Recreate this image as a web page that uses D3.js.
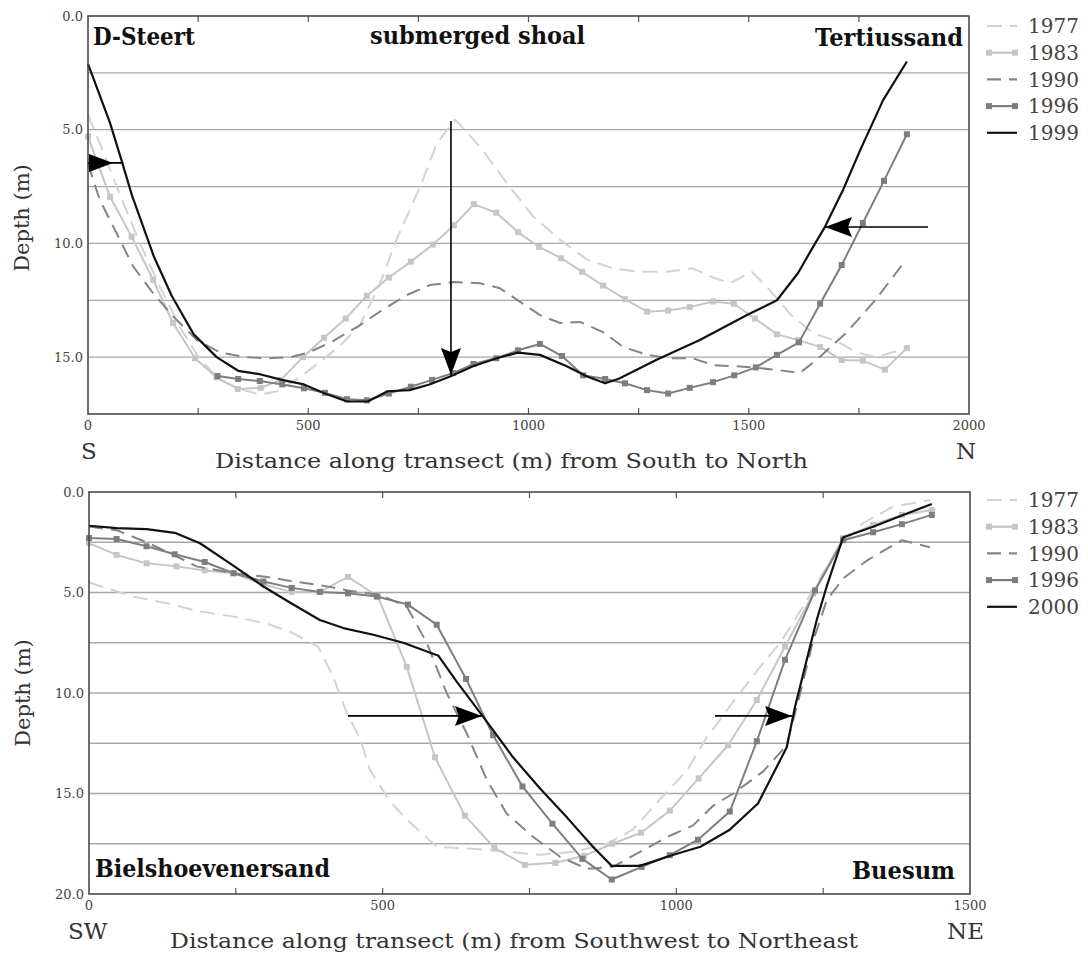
<!DOCTYPE html>
<html>
<head>
<meta charset="utf-8">
<script src="https://cdn.jsdelivr.net/npm/d3@7"></script>
<style>
  body { margin: 0; background: #fff; }
  text { font-family: "DejaVu Serif", serif; }
</style>
</head>
<body>
<script>
// ---- data: top transect (South -> North), [distance m, depth m]
const top1977 = [[0,4.35],[27,5.6],[65,7.5],[118,10.0],[163,11.9],[209,13.7],[254,15.1],[300,16.0],[345,16.4],[390,16.65],[430,16.5],[480,15.9],[527,15.2],[572,14.5],[617,13.6],[660,11.9],[700,9.85],[754,7.5],[792,5.6],[833,4.55],[890,5.75],[951,7.35],[1010,8.8],[1072,9.85],[1132,10.7],[1192,11.1],[1253,11.25],[1314,11.25],[1373,11.1],[1419,11.5],[1457,11.75],[1507,11.25],[1541,11.9],[1594,13.1],[1646,13.95],[1700,14.3],[1746,14.8],[1790,15.0],[1859,14.6]];
const top1983 = [[0,5.3],[50,7.95],[99,9.7],[148,11.6],[193,13.5],[243,15.05],[292,15.9],[340,16.4],[392,16.35],[438,16.0],[488,15.0],[536,14.15],[585,13.3],[633,12.3],[683,11.5],[733,10.8],[783,10.05],[831,9.2],[876,8.27],[927,8.65],[976,9.5],[1024,10.15],[1074,10.65],[1122,11.25],[1169,11.85],[1219,12.45],[1269,13.0],[1317,12.95],[1366,12.8],[1419,12.55],[1466,12.65],[1514,13.3],[1564,14.0],[1612,14.25],[1662,14.55],[1711,15.13],[1759,15.15],[1809,15.55],[1859,14.6]];
const top1990 = [[0,6.5],[27,8.1],[65,9.55],[102,11.0],[148,12.2],[193,13.2],[247,14.25],[300,14.8],[360,15.0],[406,15.05],[460,15.0],[500,14.8],[556,14.3],[617,13.6],[670,12.9],[724,12.27],[776,11.83],[829,11.7],[890,11.75],[935,11.97],[981,12.57],[1026,13.15],[1072,13.5],[1117,13.45],[1169,13.9],[1215,14.55],[1269,14.9],[1321,15.05],[1373,15.05],[1419,15.35],[1496,15.43],[1560,15.55],[1616,15.7],[1655,15.1],[1723,13.9],[1787,12.5],[1848,10.95]];
const top1996 = [[294,15.83],[341,15.96],[390,16.05],[441,16.2],[490,16.37],[538,16.57],[588,16.85],[633,16.9],[683,16.6],[733,16.3],[781,16.0],[829,15.7],[875,15.3],[927,15.05],[976,14.7],[1026,14.42],[1076,14.95],[1124,15.8],[1174,15.96],[1219,16.15],[1269,16.45],[1317,16.6],[1366,16.35],[1419,16.1],[1467,15.8],[1516,15.45],[1564,14.9],[1614,14.35],[1662,12.65],[1711,10.95],[1759,9.1],[1807,7.25],[1859,5.2]];
const top1999 = [[0,2.1],[50,4.7],[77,6.4],[100,7.9],[150,10.6],[190,12.3],[240,14.0],[292,15.0],[341,15.6],[390,15.75],[440,16.0],[490,16.2],[538,16.6],[588,16.95],[635,16.95],[680,16.5],[730,16.45],[775,16.2],[822,15.85],[874,15.4],[928,15.05],[976,14.8],[1026,14.9],[1087,15.4],[1133,15.85],[1174,16.15],[1205,15.95],[1292,15.1],[1389,14.25],[1496,13.15],[1564,12.5],[1612,11.3],[1646,10.15],[1673,9.27],[1714,7.65],[1753,5.9],[1805,3.7],[1859,2.0]];

// ---- data: bottom transect (Southwest -> Northeast)
const bot1977 = [[0,4.5],[75,5.2],[132,5.53],[189,5.95],[246,6.2],[303,6.55],[342,6.95],[390,7.7],[416,9.2],[439,11.0],[462,12.3],[478,13.8],[510,15.3],[541,16.3],[592,17.65],[654,17.75],[711,17.9],[768,18.05],[825,17.9],[882,17.5],[926,16.8],[972,15.3],[1018,13.85],[1052,12.2],[1103,10.2],[1148,8.5],[1177,7.5],[1222,5.4],[1273,2.9],[1318,1.55],[1369,0.73],[1432,0.4]];
const bot1983 = [[0,2.54],[47,3.13],[98,3.55],[149,3.7],[197,3.9],[246,4.04],[297,4.6],[345,4.97],[393,4.97],[441,4.22],[492,5.2],[541,8.7],[589,13.2],[640,16.1],[690,17.7],[742,18.55],[794,18.45],[843,18.1],[891,17.5],[940,16.95],[989,15.85],[1038,14.25],[1088,12.6],[1137,10.35],[1185,7.7],[1233,5.05],[1284,2.3],[1335,1.63],[1384,1.14],[1435,0.9]];
const bot1990 = [[0,1.72],[47,1.9],[98,2.5],[149,3.2],[183,3.7],[246,4.04],[297,4.2],[348,4.45],[393,4.63],[441,4.9],[495,5.12],[541,5.7],[575,7.5],[609,10.0],[643,12.0],[677,14.3],[711,16.0],[756,17.15],[802,18.15],[848,18.75],[892,18.65],[938,17.9],[989,17.1],[1028,16.6],[1063,15.6],[1097,15.0],[1148,13.9],[1188,12.6],[1211,10.0],[1233,7.4],[1256,5.4],[1284,4.3],[1325,3.4],[1384,2.4],[1432,2.75]];
const bot1996 = [[0,2.29],[47,2.34],[98,2.7],[146,3.1],[197,3.48],[246,4.04],[297,4.45],[345,4.77],[393,4.97],[441,5.04],[490,5.2],[543,5.6],[592,6.6],[642,9.3],[688,12.1],[738,14.65],[789,16.5],[840,18.25],[890,19.28],[941,18.65],[989,18.07],[1037,17.3],[1091,15.9],[1137,12.4],[1185,8.35],[1236,4.9],[1284,2.4],[1335,2.0],[1384,1.6],[1435,1.14]];
const bot2000 = [[0,1.68],[47,1.8],[98,1.85],[146,2.03],[189,2.55],[240,3.55],[297,4.7],[342,5.5],[393,6.37],[433,6.77],[484,7.1],[535,7.5],[595,8.15],[626,9.43],[669,11.1],[722,13.2],[768,14.75],[814,16.2],[858,17.65],[890,18.6],[938,18.6],[995,18.05],[1041,17.65],[1091,16.8],[1139,15.5],[1188,12.7],[1202,10.7],[1222,8.35],[1239,6.37],[1256,4.7],[1284,2.25],[1335,1.73],[1386,1.14],[1435,0.6]];

const topYears = ["1977", "1983", "1990", "1996", "1999"];
const botYears = ["1977", "1983", "1990", "1996", "2000"];
const topTicksX = [0, 500, 1000, 1500, 2000];
const botTicksX = [0, 500, 1000, 1500];
const topTicksY = [0, 5, 10, 15];
const botTicksY = [0, 5, 10, 15, 20];

// arrows in data coordinates
const topArrows = [
    { from: [824, 4.62], to: [824, 15.79] },
    { from: [1907, 9.28], to: [1673, 9.28] }
];
const topMark = { from: [0, 6.46], to: [77, 6.46] };
const botArrows = [
    { from: [441, 11.14], to: [669, 11.14] },
    { from: [1066, 11.14], to: [1197, 11.14] }
];

// line styles per year (same order as the years)
const styles = [
    { color: "#d3d3d3", dash: "15,8", marker: false },
    { color: "#c6c6c6", dash: null, marker: true },
    { color: "#858585", dash: "14,8", marker: false },
    { color: "#7e7e7e", dash: null, marker: true },
    { color: "#111111", dash: null, marker: false }
];

const svg = d3.select("body")
    .append("svg")
    .attr("width", 1088)
    .attr("height", 954)
    .style("background", "#fff");

function arrowHead(g, tip, dir, len, w) {
    const bx = tip[0] - dir[0] * len, by = tip[1] - dir[1] * len;
    const nx = -dir[1], ny = dir[0];
    g.append("path")
        .attr("d", `M${tip[0]},${tip[1]}L${bx + nx * w},${by + ny * w}L${bx + dir[0] * 4},${by + dir[1] * 4}L${bx - nx * w},${by - ny * w}Z`)
        .attr("fill", "#000");
}

function drawPanel(p) {
    const x = d3.scaleLinear().domain(p.xDomain).range([p.left, p.right]);
    const y = d3.scaleLinear().domain(p.yDomain).range([p.top, p.bottom]);
    const g = svg.append("g");

    // horizontal grid every 2.5 m
    g.selectAll(".grid")
        .data(d3.range(2.5, p.yDomain[1] - 0.01, 2.5))
        .join("line")
        .attr("class", "grid")
        .attr("x1", p.left).attr("x2", p.right)
        .attr("y1", d => y(d)).attr("y2", d => y(d))
        .attr("stroke", "#a8a8a8")
        .attr("stroke-width", 1.3);

    // small inward ticks every 250 m on top and bottom
    const minor = d3.range(250, p.xDomain[1], 250);
    g.selectAll(".tickT").data(minor).join("line")
        .attr("x1", d => x(d)).attr("x2", d => x(d))
        .attr("y1", p.top).attr("y2", p.top + 6)
        .attr("stroke", "#555").attr("stroke-width", 1.2);
    g.selectAll(".tickB").data(minor).join("line")
        .attr("x1", d => x(d)).attr("x2", d => x(d))
        .attr("y1", p.bottom).attr("y2", p.bottom - 6)
        .attr("stroke", "#555").attr("stroke-width", 1.2);

    // series
    const line = d3.line().x(d => x(d[0])).y(d => y(d[1]));
    p.series.forEach((s, i) => {
        const st = styles[i];
        g.append("path")
            .datum(s)
            .attr("d", line)
            .attr("fill", "none")
            .attr("stroke", st.color)
            .attr("stroke-width", i === 4 ? 2.2 : 2)
            .attr("stroke-dasharray", st.dash)
            .attr("stroke-linejoin", "round");
        if (st.marker) {
            g.selectAll(".m" + i).data(s).join("rect")
                .attr("x", d => x(d[0]) - 3)
                .attr("y", d => y(d[1]) - 3)
                .attr("width", 6).attr("height", 6)
                .attr("fill", st.color);
        }
    });

    // frame
    g.append("rect")
        .attr("x", p.left).attr("y", p.top)
        .attr("width", p.right - p.left).attr("height", p.bottom - p.top)
        .attr("fill", "none")
        .attr("stroke", "#4a4a4a")
        .attr("stroke-width", 1.6);

    // arrows
    p.arrows.forEach(a => {
        const x1 = x(a.from[0]), y1 = y(a.from[1]);
        const x2 = x(a.to[0]), y2 = y(a.to[1]);
        const l = Math.hypot(x2 - x1, y2 - y1);
        g.append("line")
            .attr("x1", x1).attr("y1", y1).attr("x2", x2).attr("y2", y2)
            .attr("stroke", "#000").attr("stroke-width", 1.6);
        arrowHead(g, [x2, y2], [(x2 - x1) / l, (y2 - y1) / l], 27, 10);
    });
    if (p.mark) {
        const x1 = x(p.mark.from[0]), y1 = y(p.mark.from[1]);
        g.append("line")
            .attr("x1", x1).attr("y1", y1).attr("x2", x(p.mark.to[0])).attr("y2", y1)
            .attr("stroke", "#000").attr("stroke-width", 1.6);
        g.append("path")
            .attr("d", `M${x1 + 1},${y1 - 9}L${x1 + 25},${y1}L${x1 + 1},${y1 + 9}Z`)
            .attr("fill", "#000");
    }

    // tick labels
    g.selectAll(".xl").data(p.ticksX).join("text")
        .attr("x", d => x(d))
        .attr("y", p.bottom + 16)
        .attr("text-anchor", "middle")
        .attr("font-size", 13)
        .attr("fill", "#444")
        .text(d => d);
    g.selectAll(".yl").data(p.ticksY).join("text")
        .attr("x", p.left - 5)
        .attr("y", d => y(d))
        .attr("dy", "0.36em")
        .attr("text-anchor", "end")
        .attr("font-size", 13)
        .attr("fill", "#444")
        .text(d => d3.format(".1f")(d));

    // axis titles
    g.append("text")
        .attr("x", p.title.x).attr("y", p.title.y)
        .attr("font-size", 21)
        .attr("fill", "#333")
        .attr("textLength", p.title.len)
        .attr("lengthAdjust", "spacingAndGlyphs")
        .text(p.title.text);
    g.append("text")
        .attr("transform", `translate(${p.yTitle[0]},${p.yTitle[1]}) rotate(-90)`)
        .attr("text-anchor", "middle")
        .attr("dy", "0.35em")
        .attr("font-size", 21)
        .attr("fill", "#333")
        .text("Depth (m)");
    p.ends.forEach(e => {
        g.append("text")
            .attr("x", e.x).attr("y", e.y)
            .attr("font-size", 23)
            .attr("fill", "#333")
            .text(e.text);
    });

    // bold place names
    p.names.forEach(n => {
        g.append("text")
            .attr("x", n.x).attr("y", n.y)
            .attr("font-size", 24)
            .attr("font-weight", "bold")
            .attr("fill", "#111")
            .attr("textLength", n.len)
            .attr("lengthAdjust", "spacingAndGlyphs")
            .text(n.text);
    });

    // legend
    const lg = g.append("g");
    p.years.forEach((yr, i) => {
        const st = styles[i];
        const ly = p.legendY + i * 26.7;
        lg.append("line")
            .attr("x1", 987).attr("x2", 1017)
            .attr("y1", ly).attr("y2", ly)
            .attr("stroke", st.color)
            .attr("stroke-width", 2.2)
            .attr("stroke-dasharray", st.dash);
        if (st.marker) {
            [989, 1015].forEach(mx => lg.append("rect")
                .attr("x", mx - 3).attr("y", ly - 3)
                .attr("width", 6).attr("height", 6)
                .attr("fill", st.color));
        }
        lg.append("text")
            .attr("x", 1028).attr("y", ly)
            .attr("dy", "0.36em")
            .attr("font-size", 20)
            .attr("fill", "#444")
            .text(yr);
    });
}

drawPanel({
    left: 88, right: 969, top: 16, bottom: 414,
    xDomain: [0, 2000], yDomain: [0, 17.5],
    series: [top1977, top1983, top1990, top1996, top1999],
    years: topYears,
    ticksX: topTicksX, ticksY: topTicksY,
    arrows: topArrows, mark: topMark,
    title: { text: "Distance along transect (m) from South to North", x: 215, y: 468, len: 593 },
    yTitle: [22, 218],
    ends: [{ text: "S", x: 81, y: 459 }, { text: "N", x: 956, y: 459 }],
    names: [
        { text: "D-Steert", x: 93, y: 45, len: 102 },
        { text: "submerged shoal", x: 370, y: 44, len: 215 },
        { text: "Tertiussand", x: 815, y: 46, len: 148 }
    ],
    legendY: 26
});

drawPanel({
    left: 89, right: 970, top: 492, bottom: 894,
    xDomain: [0, 1500], yDomain: [0, 20],
    series: [bot1977, bot1983, bot1990, bot1996, bot2000],
    years: botYears,
    ticksX: botTicksX, ticksY: botTicksY,
    arrows: botArrows, mark: null,
    title: { text: "Distance along transect (m) from Southwest to Northeast", x: 170, y: 948, len: 688 },
    yTitle: [23, 693],
    ends: [{ text: "SW", x: 68, y: 939 }, { text: "NE", x: 947, y: 939 }],
    names: [
        { text: "Bielshoevenersand", x: 95, y: 877, len: 235 },
        { text: "Buesum", x: 852, y: 879, len: 103 }
    ],
    legendY: 500
});
</script>
</body>
</html>
